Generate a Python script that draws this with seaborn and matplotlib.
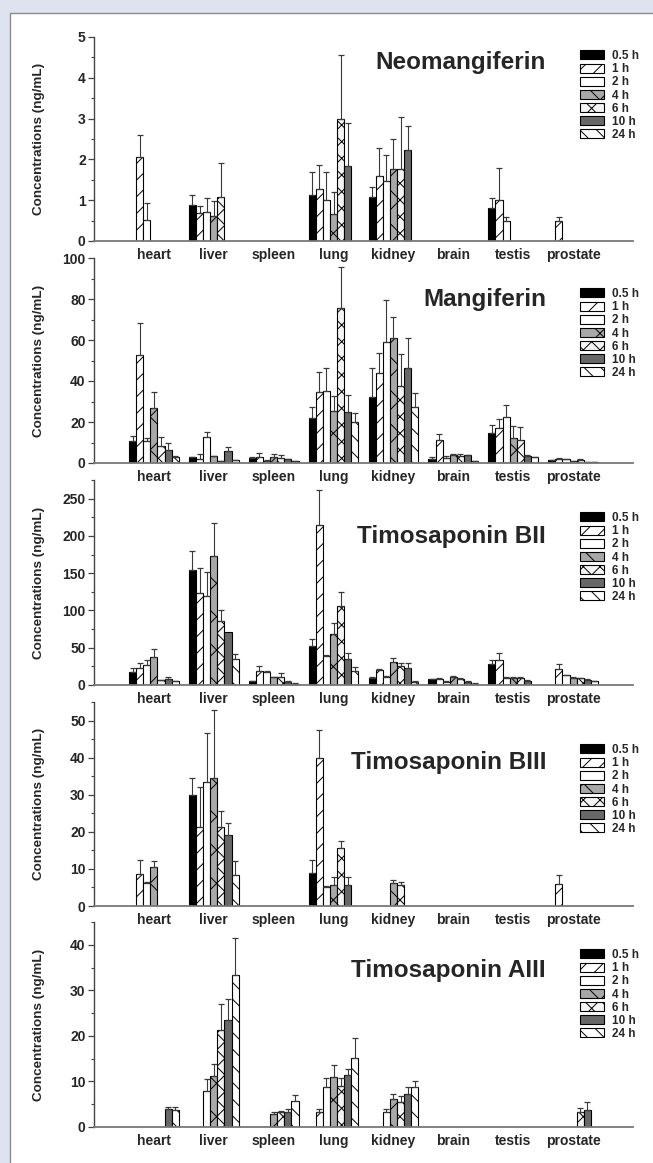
import numpy as np
import pandas as pd
import matplotlib
matplotlib.use("Agg")
import matplotlib.pyplot as plt
from matplotlib.patches import Rectangle, Patch
from matplotlib.ticker import MultipleLocator
import seaborn as sns

# ---------------- data ----------------
ORGANS = ["heart", "liver", "spleen", "lung", "kidney", "brain", "testis", "prostate"]
TIMES = ["0.5 h", "1 h", "2 h", "4 h", "6 h", "10 h", "24 h"]

# rows = organs, columns = time points (mean, ng/mL)
NEO_MEAN = [
    [0, 2.05, 0.52, 0, 0, 0, 0],
    [0.88, 0.68, 0.72, 0.62, 1.07, 0, 0],
    [0, 0, 0, 0, 0, 0, 0],
    [1.13, 1.27, 1.0, 0.65, 3.0, 1.83, 0],
    [1.07, 1.6, 1.48, 1.77, 1.77, 2.22, 0],
    [0, 0, 0, 0, 0, 0, 0],
    [0.8, 1.0, 0.5, 0, 0, 0, 0],
    [0, 0.5, 0, 0, 0, 0, 0],
]
NEO_ERR = [
    [0, 0.55, 0.4, 0, 0, 0, 0],
    [0.25, 0.17, 0.33, 0.35, 0.85, 0, 0],
    [0, 0, 0, 0, 0, 0, 0],
    [0.55, 0.6, 0.68, 0.55, 1.57, 1.07, 0],
    [0.25, 0.68, 0.64, 0.73, 1.28, 0.61, 0],
    [0, 0, 0, 0, 0, 0, 0],
    [0.25, 0.78, 0.1, 0, 0, 0, 0],
    [0, 0.08, 0, 0, 0, 0, 0],
]
MANG_MEAN = [
    [10.9, 52.7, 10.5, 27.0, 8.5, 6.3, 2.9],
    [2.8, 1.8, 12.8, 3.2, 0.8, 5.8, 1.3],
    [2.5, 3.0, 1.2, 2.8, 2.5, 1.8, 1.0],
    [21.8, 34.8, 35.3, 25.5, 75.4, 25.0, 19.8],
    [32.4, 43.7, 59.2, 61.1, 37.7, 46.2, 27.5],
    [2.0, 11.2, 2.2, 3.8, 3.6, 3.7, 0.8],
    [14.6, 17.0, 22.4, 12.2, 11.4, 3.6, 2.8],
    [1.3, 2.0, 1.8, 1.0, 1.5, 0.6, 0.3],
]
MANG_ERR = [
    [2.3, 15.4, 1.5, 7.8, 4.0, 3.6, 0.4],
    [0.3, 2.4, 2.5, 0.4, 0.3, 2.1, 0.2],
    [0.5, 2.0, 0.5, 1.7, 1.3, 0.3, 0.2],
    [5.4, 9.4, 10.9, 7.0, 20.4, 8.2, 4.4],
    [13.8, 10.1, 20.3, 10.3, 15.3, 14.9, 6.8],
    [1.0, 2.8, 1.0, 0.6, 0.9, 0.4, 0.2],
    [3.8, 4.5, 6.1, 5.7, 6.2, 0.5, 0.3],
    [0.2, 0.3, 0.3, 0.2, 0.5, 0.1, 0.1],
]
BII_MEAN = [
    [17.0, 23.3, 26.9, 37.2, 6.7, 8.5, 4.9],
    [154.6, 124.0, 119.5, 173.4, 86.0, 70.8, 34.5],
    [4.9, 19.3, 17.9, 10.3, 11.2, 4.5, 2.0],
    [52.9, 214.2, 39.4, 68.1, 106.2, 34.5, 19.3],
    [9.4, 20.0, 11.0, 31.4, 26.0, 22.4, 4.0],
    [7.6, 8.0, 4.5, 10.5, 8.5, 4.5, 1.8],
    [28.2, 33.6, 10.0, 10.0, 9.0, 6.0, 0],
    [0, 22.0, 13.0, 10.0, 9.0, 7.0, 5.0],
]
BII_ERR = [
    [5.4, 5.7, 6.7, 10.8, 0.5, 1.8, 0.5],
    [24.6, 33.0, 32.5, 43.9, 14.8, 0, 6.7],
    [0.5, 6.2, 1.0, 1.0, 4.5, 0.5, 0.3],
    [8.5, 47.0, 1.0, 14.8, 19.2, 8.1, 5.3],
    [1.0, 2.0, 1.0, 4.4, 3.0, 6.7, 1.0],
    [1.0, 2.0, 1.0, 1.0, 1.0, 0.5, 0.3],
    [5.4, 9.0, 0.5, 1.0, 2.0, 1.0, 0],
    [0, 6.0, 1.0, 1.0, 1.0, 0.8, 0.5],
]
BIII_MEAN = [
    [0, 8.6, 6.1, 10.5, 0, 0, 0],
    [30.0, 21.4, 33.5, 34.4, 21.4, 19.2, 8.4],
    [0, 0, 0, 0, 0, 0, 0],
    [9.0, 40.0, 5.2, 5.7, 15.6, 5.7, 0],
    [0, 0, 0, 6.1, 5.6, 0, 0],
    [0, 0, 0, 0, 0, 0, 0],
    [0, 0, 0, 0, 0, 0, 0],
    [0, 5.8, 0, 0, 0, 0, 0],
]
BIII_ERR = [
    [0, 3.8, 0.3, 1.6, 0, 0, 0],
    [4.5, 10.6, 13.1, 18.5, 4.2, 3.3, 3.7],
    [0, 0, 0, 0, 0, 0, 0],
    [3.4, 7.5, 0.3, 2.2, 1.9, 2.2, 0],
    [0, 0, 0, 0.9, 0.8, 0, 0],
    [0, 0, 0, 0, 0, 0, 0],
    [0, 0, 0, 0, 0, 0, 0],
    [0, 2.6, 0, 0, 0, 0, 0],
]
AIII_MEAN = [
    [0, 0, 0, 0, 0, 4.0, 3.8],
    [0, 0, 8.0, 11.2, 21.2, 23.4, 33.4],
    [0, 0, 0, 2.9, 3.3, 3.2, 5.7],
    [0, 3.2, 8.7, 11.0, 9.0, 11.5, 15.2],
    [0, 0, 3.2, 6.2, 5.5, 7.3, 8.8],
    [0, 0, 0, 0, 0, 0, 0],
    [0, 0, 0, 0, 0, 0, 0],
    [0, 0, 0, 0, 3.2, 3.8, 0],
]
AIII_ERR = [
    [0, 0, 0, 0, 0, 0.4, 0.6],
    [0, 0, 2.5, 2.6, 5.9, 4.6, 8.1],
    [0, 0, 0, 0.5, 0.3, 0.8, 1.4],
    [0, 0.8, 2.1, 2.6, 1.8, 1.3, 4.3],
    [0, 0, 0.8, 1.0, 1.3, 1.4, 1.4],
    [0, 0, 0, 0, 0, 0, 0],
    [0, 0, 0, 0, 0, 0, 0],
    [0, 0, 0, 0, 1.0, 1.7, 0],
]
TITLES = ["Neomangiferin", "Mangiferin", "Timosaponin BII", "Timosaponin BIII", "Timosaponin AIII"]
YLABEL = "Concentrations (ng/mL)"

# ---------------- style ----------------
sns.set_style("ticks")
plt.rcParams["font.family"] = ["Liberation Sans", "DejaVu Sans"]
plt.rcParams["font.weight"] = "bold"
plt.rcParams["hatch.linewidth"] = 0.7

FILLS = ["#000000", "#ffffff", "#ffffff", "#a8a8a8", "#f4f4f4", "#686868", "#ffffff"]
HATCHES = [None, "//", None, "x", "xx", None, "\\\\"]
PALETTE = dict(zip(TIMES, FILLS))

W, H = 653, 1163
fig = plt.figure(figsize=(W / 100, H / 100), dpi=100, facecolor="#dfe3ef")
fig.add_artist(Rectangle((10 / W, -0.01), 1.0, 1 - 13 / H + 0.01, transform=fig.transFigure,
                         facecolor="white", edgecolor="#8c8c8c", lw=1.0, zorder=0))

LEFT, RIGHT = 94, 633
# (top px, bottom px, ymax, major, minor, title y px, legend first-row y px)
PANELS = [
    (37, 241, 5, 1, 0.5, 63, 56),
    (258, 463, 100, 20, 10, 299, 294),
    (480, 685, 275, 50, 25, 537, 518),
    (702, 906, 55, 10, 5, 762, 750),
    (922, 1127, 45, 10, 5, 970, 955),
]
MEANS = [NEO_MEAN, MANG_MEAN, BII_MEAN, BIII_MEAN, AIII_MEAN]
ERRS = [NEO_ERR, MANG_ERR, BII_ERR, BIII_ERR, AIII_ERR]

for p, (top, bot, ymax, major, minor, ty, ly) in enumerate(PANELS):
    ax = fig.add_axes([LEFT / W, 1 - bot / H, (RIGHT - LEFT) / W, (bot - top) / H])
    ax.set_facecolor("none")
    rows = []
    for i, organ in enumerate(ORGANS):
        for j, t in enumerate(TIMES):
            rows.append({"organ": organ, "time": t, "value": MEANS[p][i][j], "err": ERRS[p][i][j]})
    df = pd.DataFrame(rows)
    sns.barplot(data=df, x="organ", y="value", hue="time", order=ORGANS, hue_order=TIMES,
                palette=PALETTE, saturation=1, width=0.83, errorbar=None,
                edgecolor="black", linewidth=0.8, legend=False, ax=ax)
    bar_conts = list(ax.containers)
    for j, cont in enumerate(bar_conts):
        for i, bar in enumerate(cont.patches):
            if HATCHES[j]:
                bar.set_hatch(HATCHES[j])
            val = MEANS[p][i][j]
            err = ERRS[p][i][j]
            if val <= 0:
                bar.set_linewidth(0)
                continue
            if err > 0:
                xc = bar.get_x() + bar.get_width() / 2
                ax.errorbar([xc], [bar.get_height()], yerr=[[0], [err]], fmt="none",
                            ecolor="#3a3a3a", elinewidth=0.8, capsize=2.2, capthick=0.9, zorder=1)

    ax.set_xlim(-1, len(ORGANS))
    ax.set_ylim(0, ymax)
    ax.yaxis.set_major_locator(MultipleLocator(major))
    ax.yaxis.set_minor_locator(MultipleLocator(minor))
    sns.despine(ax=ax)
    ax.spines["left"].set_color("#444444")
    ax.spines["bottom"].set_color("#777777")
    ax.spines["left"].set_linewidth(1.0)
    ax.spines["bottom"].set_linewidth(1.3)
    ax.tick_params(axis="y", which="major", length=4, width=0.9, color="#444444",
                   labelsize=10, pad=2)
    ax.tick_params(axis="y", which="minor", length=2, width=0.8, color="#444444")
    ax.tick_params(axis="x", length=0, labelsize=10, pad=5)
    for lab in ax.get_xticklabels() + ax.get_yticklabels():
        lab.set_fontweight("bold")
    ax.set_xlabel("")
    ax.set_ylabel(YLABEL, fontsize=9.7, fontweight="bold")
    ax.yaxis.set_label_coords((45 - LEFT) / (RIGHT - LEFT), 0.5)

    hgt = bot - top
    ax.text(0.8386, 1 - (ty - top) / hgt, TITLES[p], transform=ax.transAxes,
            ha="right", va="center", fontsize=17.5, fontweight="bold")

    handles = [Patch(facecolor=FILLS[j], edgecolor="black", hatch=HATCHES[j], lw=0.8)
               for j in range(len(TIMES))]
    ax.legend(handles=handles, labels=TIMES, loc="upper left",
              bbox_to_anchor=((580 - LEFT) / (RIGHT - LEFT), 1 - (ly - 6 - top) / hgt),
              frameon=False, borderpad=0, borderaxespad=0,
              handlelength=2.0, handleheight=0.8, handletextpad=0.7, labelspacing=0.1,
              prop={"weight": "bold", "size": 8.5})

fig.savefig("out.png", dpi=100, facecolor=fig.get_facecolor())
